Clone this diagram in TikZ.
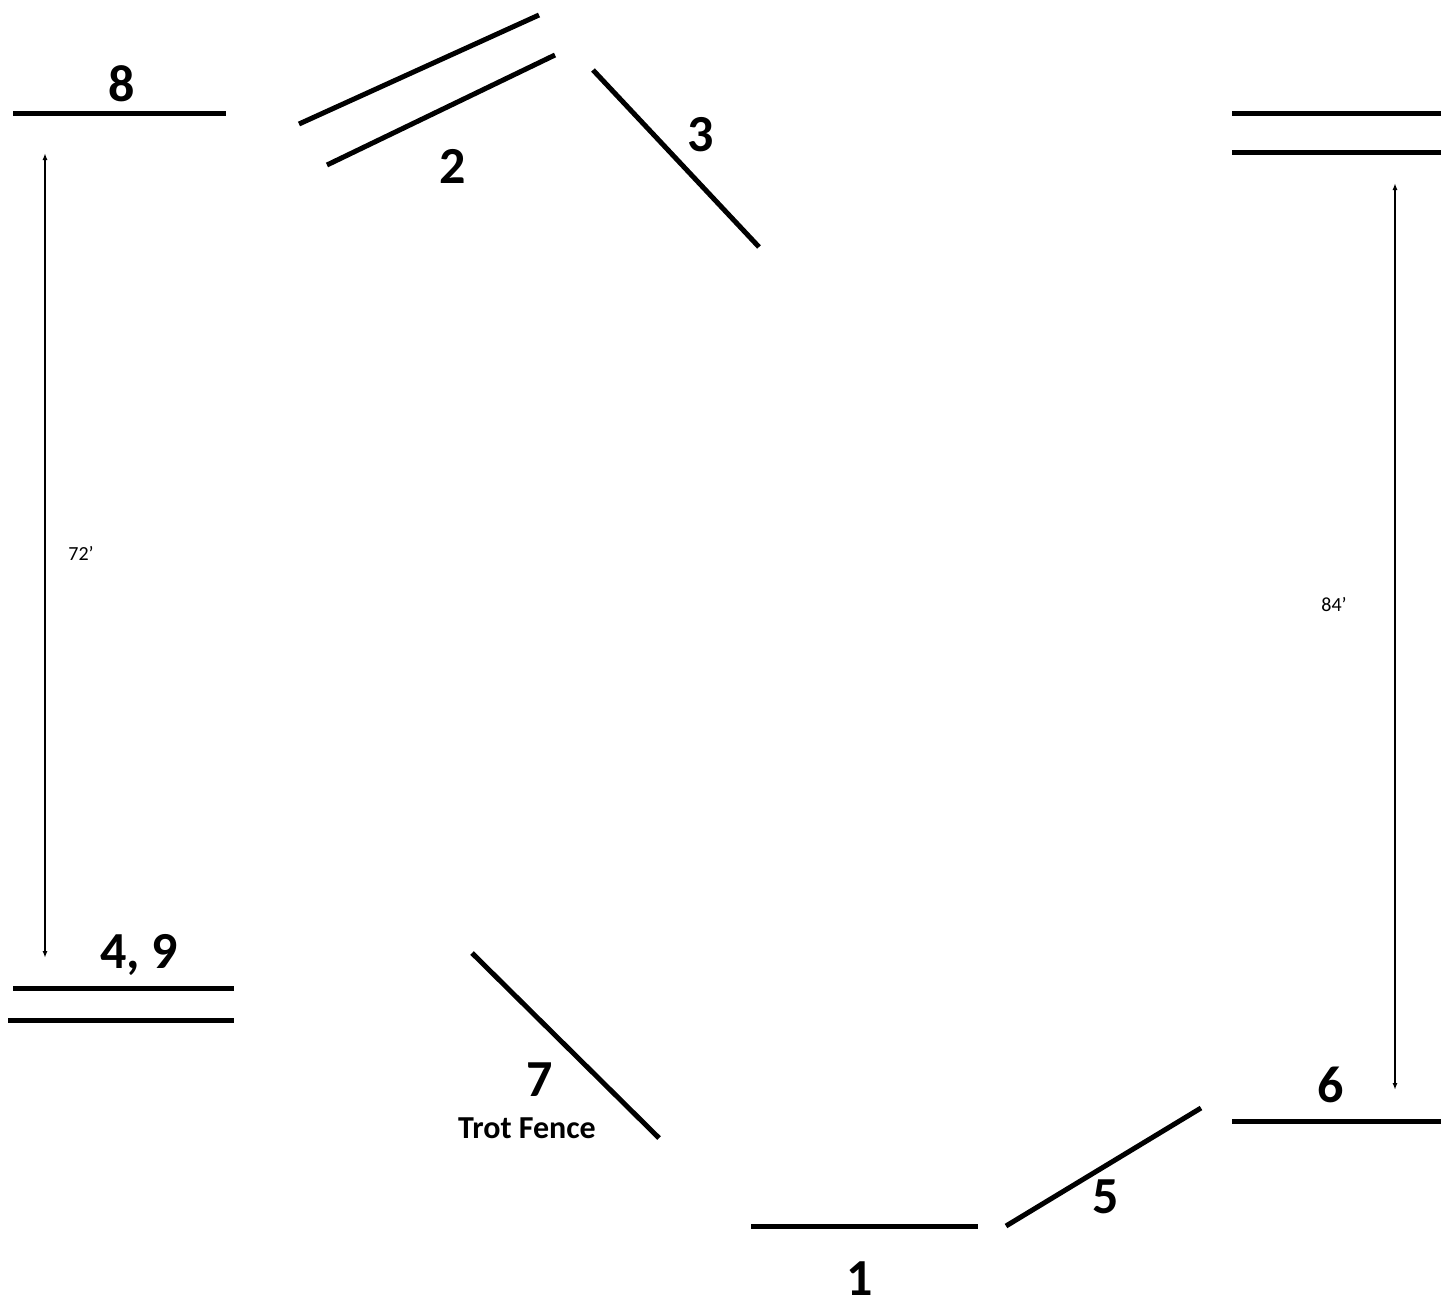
\documentclass[tikz,border=0pt]{standalone}
\usepackage{fontspec}
\setmainfont{Carlito}
\usetikzlibrary{arrows.meta}
\begin{document}
\begin{tikzpicture}[x=1pt,y=-1pt,
  fence/.style={line width=5pt},
  big/.style={font=\fontsize{52}{60}\selectfont\bfseries, inner sep=0pt},
  mid/.style={font=\fontsize{32}{38}\selectfont\bfseries, inner sep=0pt},
  small/.style={font=\fontsize{20}{24}\selectfont, inner sep=0pt},
  dim/.style={line width=1.5pt, {Latex[length=7pt,width=5pt]}-{Latex[length=7pt,width=5pt]}}]
\useasboundingbox (0,0) rectangle (1441,1304);
% fence 8
\coordinate (f8a) at (13,113); \coordinate (f8b) at (226,113);
\draw[fence] (f8a) -- (f8b);
\node[big] (l8) at (122,84) {8};
% fence 2
\coordinate (f2a) at (299,124); \coordinate (f2b) at (539,15);
\coordinate (f2c) at (327,165); \coordinate (f2d) at (555,55);
\draw[fence] (f2a) -- (f2b);
\draw[fence] (f2c) -- (f2d);
\node[big] (l2) at (453,166) {2};
% fence 3
\coordinate (f3a) at (593,70); \coordinate (f3b) at (759,247);
\draw[fence] (f3a) -- (f3b);
\node[big] (l3) at (701,135) {3};
% top right oxer
\coordinate (tra) at (1232,113); \coordinate (trb) at (1441,113);
\coordinate (trc) at (1232,152); \coordinate (trd) at (1441,152);
\draw[fence] (tra) -- (trb);
\draw[fence] (trc) -- (trd);
% dimension right
\coordinate (dr1) at (1395,183); \coordinate (dr2) at (1395,1090);
\draw[dim] (dr1) -- (dr2);
\node[small] (l84) at (1334,605) {84’};
% dimension left
\coordinate (dl1) at (45,153); \coordinate (dl2) at (45,958);
\draw[dim] (dl1) -- (dl2);
\node[small] (l72) at (81,553) {72’};
% fence 4,9
\coordinate (f4a) at (13,988); \coordinate (f4b) at (234,988);
\coordinate (f4c) at (8,1020); \coordinate (f4d) at (234,1020);
\draw[fence] (f4a) -- (f4b);
\draw[fence] (f4c) -- (f4d);
\node[big] (l49) at (139,955) {4, 9};
% fence 7
\coordinate (f7a) at (472,953); \coordinate (f7b) at (659,1138);
\draw[fence] (f7a) -- (f7b);
\node[big] (l7) at (540,1080) {7};
\node[mid] (ltrot) at (527,1128) {Trot Fence};
% fence 1
\coordinate (f1a) at (751,1226); \coordinate (f1b) at (978,1226);
\draw[fence] (f1a) -- (f1b);
\node[big] (l1) at (860,1279) {1};
% fence 5
\coordinate (f5a) at (1006,1226); \coordinate (f5b) at (1201,1108);
\draw[fence] (f5a) -- (f5b);
\node[big] (l5) at (1106,1197) {5};
% fence 6
\coordinate (f6a) at (1232,1121); \coordinate (f6b) at (1441,1121);
\draw[fence] (f6a) -- (f6b);
\node[big] (l6) at (1331,1085) {6};
\end{tikzpicture}
\end{document}
